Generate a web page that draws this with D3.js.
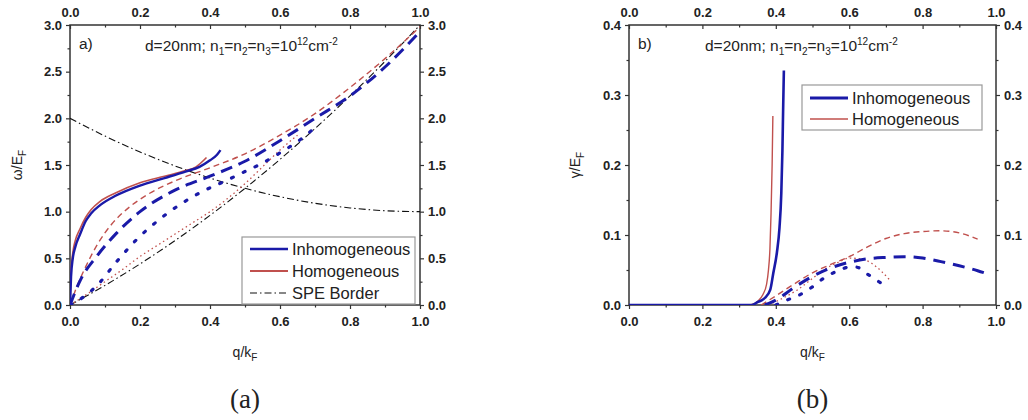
<!DOCTYPE html>
<html>
<head>
<meta charset="utf-8">
<script src="https://cdn.jsdelivr.net/npm/d3@7"></script>
<style>
  body { margin: 0; background: #fff; }
  svg { display: block; }
  text { fill: #222; }
</style>
</head>
<body>
<div id="chart"></div>
<script>
// tick values
var qTicks = [0, 0.2, 0.4, 0.6, 0.8, 1.0];
var qMinor = [0.1, 0.3, 0.5, 0.7, 0.9];
var omegaTicks = [0, 0.5, 1.0, 1.5, 2.0, 2.5, 3.0];
var omegaMinor = [0.25, 0.75, 1.25, 1.75, 2.25, 2.75];
var gammaTicks = [0, 0.1, 0.2, 0.3, 0.4];
var gammaMinor = [0.05, 0.15, 0.25, 0.35];

// panel a) : [q/kF, omega/EF]
var inhomMode1 = [[0,0],[0.003,0.3],[0.008,0.5],[0.015,0.62],[0.029,0.76],[0.045,0.9],[0.06,0.98],[0.086,1.07],[0.13,1.17],[0.2,1.28],[0.27,1.36],[0.33,1.43],[0.37,1.48],[0.4,1.55],[0.42,1.61],[0.43,1.66]];
var homMode1 = [[0,0],[0.003,0.35],[0.008,0.56],[0.015,0.69],[0.029,0.82],[0.045,0.94],[0.06,1.02],[0.086,1.11],[0.13,1.2],[0.2,1.31],[0.27,1.38],[0.33,1.44],[0.36,1.48],[0.39,1.58]];
var inhomMode2 = [[0,0],[0.03,0.27],[0.076,0.52],[0.133,0.77],[0.2,1.0],[0.3,1.23],[0.4,1.38],[0.5,1.54],[0.6,1.76],[0.7,2.0],[0.8,2.24],[0.9,2.55],[1.0,2.93]];
var homMode2 = [[0,0],[0.02,0.2],[0.05,0.45],[0.08,0.66],[0.12,0.87],[0.17,1.05],[0.22,1.18],[0.3,1.33],[0.4,1.47],[0.5,1.62],[0.6,1.82],[0.7,2.05],[0.8,2.33],[0.9,2.64],[1.0,2.98]];
var inhomMode3 = [[0,0],[0.04,0.09],[0.08,0.22],[0.13,0.45],[0.19,0.7],[0.26,0.93],[0.32,1.09],[0.37,1.2],[0.45,1.34],[0.5,1.43],[0.55,1.52],[0.6,1.63],[0.65,1.75],[0.7,1.9]];
var homMode3 = [[0,0],[0.05,0.12],[0.1,0.25],[0.15,0.38],[0.2,0.52],[0.25,0.64],[0.3,0.76],[0.35,0.88],[0.4,1.0],[0.45,1.14],[0.5,1.3],[0.55,1.48],[0.6,1.66],[0.65,1.82]];
var speUpper = [[0,0],[0.1,0.21],[0.2,0.44],[0.3,0.69],[0.4,0.96],[0.5,1.25],[0.6,1.56],[0.7,1.89],[0.8,2.24],[0.9,2.61],[1.0,3.0]];
var speLower = [[0,2.0],[0.1,1.81],[0.2,1.64],[0.3,1.49],[0.4,1.36],[0.5,1.25],[0.6,1.16],[0.7,1.09],[0.8,1.04],[0.9,1.01],[1.0,1.0]];

// panel b) : [q/kF, gamma/EF]
var inhomDamp1 = [[0,0],[0.335,0],[0.35,0.004],[0.37,0.01],[0.385,0.022],[0.393,0.045],[0.403,0.075],[0.41,0.11],[0.415,0.16],[0.418,0.22],[0.42,0.28],[0.422,0.335]];
var homDamp1 = [[0,0],[0.33,0],[0.35,0.005],[0.365,0.015],[0.375,0.03],[0.38,0.05],[0.384,0.08],[0.387,0.13],[0.39,0.2],[0.392,0.27]];
var inhomDamp2 = [[0.37,0],[0.4,0.007],[0.45,0.025],[0.5,0.041],[0.55,0.053],[0.6,0.061],[0.65,0.066],[0.7,0.068],[0.75,0.069],[0.8,0.067],[0.85,0.062],[0.9,0.056],[0.95,0.049],[0.98,0.044]];
var homDamp2 = [[0.36,0],[0.4,0.013],[0.45,0.03],[0.5,0.046],[0.55,0.058],[0.6,0.069],[0.65,0.083],[0.7,0.095],[0.75,0.102],[0.8,0.105],[0.85,0.106],[0.9,0.103],[0.95,0.094]];
var inhomDamp3 = [[0.4,0],[0.42,0.005],[0.46,0.013],[0.5,0.026],[0.53,0.038],[0.57,0.049],[0.6,0.054],[0.62,0.054],[0.65,0.044],[0.69,0.03]];
var homDamp3 = [[0.38,0],[0.42,0.01],[0.46,0.022],[0.5,0.038],[0.53,0.05],[0.57,0.061],[0.6,0.067],[0.63,0.066],[0.66,0.06],[0.69,0.047],[0.71,0.036]];

var blue = "#1a1aa8", red = "#c0504d", black = "#111";
var sans = "'Liberation Sans', Arial, sans-serif";
var serif = "'Liberation Serif', 'Times New Roman', serif";

var svg = d3.select("#chart").append("svg")
    .attr("width", 1028)
    .attr("height", 420)
    .style("font-family", sans);

var drawPanel = function(p) {
  var x = d3.scaleLinear().domain([0, 1]).range([p.left, p.right]);
  var y = d3.scaleLinear().domain([0, p.ymax]).range([p.bottom, p.top]);
  var g = svg.append("g");

  g.append("clipPath").attr("id", p.id + "clip")
    .append("rect")
    .attr("x", p.left).attr("y", p.top)
    .attr("width", p.right - p.left).attr("height", p.bottom - p.top);

  var fmt = d3.format(".1f");
  var axes = [
    [d3.axisBottom(x).tickValues(qTicks).tickFormat(fmt).tickSize(4).tickPadding(8), "translate(0," + p.bottom + ")"],
    [d3.axisBottom(x).tickValues(qMinor).tickFormat("").tickSize(2.5), "translate(0," + p.bottom + ")"],
    [d3.axisTop(x).tickValues(qTicks).tickFormat(fmt).tickSize(-4).tickPadding(8), "translate(0," + p.top + ")"],
    [d3.axisTop(x).tickValues(qMinor).tickFormat("").tickSize(-2.5), "translate(0," + p.top + ")"],
    [d3.axisLeft(y).tickValues(p.yticks).tickFormat(fmt).tickSize(4).tickPadding(4), "translate(" + p.left + ",0)"],
    [d3.axisLeft(y).tickValues(p.yminor).tickFormat("").tickSize(2.5), "translate(" + p.left + ",0)"],
    [d3.axisRight(y).tickValues(p.yticks).tickFormat(fmt).tickSize(4).tickPadding(4), "translate(" + p.right + ",0)"],
    [d3.axisRight(y).tickValues(p.yminor).tickFormat("").tickSize(2.5), "translate(" + p.right + ",0)"]
  ];
  axes.forEach(function(a) {
    var ax = g.append("g").attr("transform", a[1]).call(a[0].tickSizeOuter(0));
    ax.select(".domain").remove();
    ax.selectAll("line").attr("stroke", "#333").attr("stroke-width", 1.2);
    ax.selectAll("text")
      .attr("font-family", sans)
      .attr("font-size", 13).attr("font-weight", "bold").attr("fill", "#222");
  });

  // frame
  g.append("rect")
    .attr("x", p.left).attr("y", p.top)
    .attr("width", p.right - p.left).attr("height", p.bottom - p.top)
    .attr("fill", "none").attr("stroke", "#333").attr("stroke-width", 1.5);

  var line = d3.line()
    .x(function(d) { return x(d[0]); })
    .y(function(d) { return y(d[1]); })
    .curve(d3.curveMonotoneX);

  var curves = g.append("g").attr("clip-path", "url(#" + p.id + "clip)");
  p.series.forEach(function(s) {
    curves.append("path")
      .datum(s.data)
      .attr("d", line)
      .attr("fill", "none")
      .attr("stroke", s.color)
      .attr("stroke-width", s.width)
      .attr("stroke-dasharray", s.dash || null)
      .attr("stroke-linecap", s.cap || "butt");
  });

  // axis titles
  var cx = (p.left + p.right) / 2;
  var xt = g.append("text").attr("x", cx).attr("y", 357)
    .attr("text-anchor", "middle").attr("font-size", 14);
  xt.append("tspan").text("q/k");
  xt.append("tspan").attr("dy", 4).attr("font-size", 10).text("F");

  var yt = g.append("text")
    .attr("transform", "translate(" + p.ytitleX + "," + ((p.top + p.bottom) / 2) + ") rotate(-90)")
    .attr("text-anchor", "middle").attr("font-size", 14);
  yt.append("tspan").text(p.ysymbol + "/E");
  yt.append("tspan").attr("dy", 4).attr("font-size", 10).text("F");

  // panel letter and parameters
  g.append("text").attr("x", p.left + 9).attr("y", 49).attr("font-size", 15.5).text(p.letter);
  var ann = g.append("text").attr("x", p.annX).attr("y", 51).attr("font-size", 15.5);
  ann.append("tspan").text("d=20nm; n");
  ann.append("tspan").attr("dy", 4).attr("font-size", 10).text("1");
  ann.append("tspan").attr("dy", -4).text("=n");
  ann.append("tspan").attr("dy", 4).attr("font-size", 10).text("2");
  ann.append("tspan").attr("dy", -4).text("=n");
  ann.append("tspan").attr("dy", 4).attr("font-size", 10).text("3");
  ann.append("tspan").attr("dy", -4).text("=10");
  ann.append("tspan").attr("dy", -6).attr("font-size", 10).text("12");
  ann.append("tspan").attr("dy", 6).text("cm");
  ann.append("tspan").attr("dy", -6).attr("font-size", 10).text("-2");

  // legend
  var L = p.legend;
  var lg = g.append("g");
  lg.append("rect")
    .attr("x", L.x).attr("y", L.y).attr("width", L.w).attr("height", L.h)
    .attr("fill", "#fff").attr("stroke", "#999").attr("stroke-width", 1.2);
  L.items.forEach(function(it, i) {
    var yy = L.y + L.first + i * L.step;
    lg.append("line")
      .attr("x1", L.x + 8).attr("x2", L.x + 46)
      .attr("y1", yy).attr("y2", yy)
      .attr("stroke", it.color).attr("stroke-width", it.width)
      .attr("stroke-dasharray", it.dash || null);
    lg.append("text").attr("x", L.x + 50).attr("y", yy + 6)
      .attr("font-size", 16.5).text(it.label);
  });

  g.append("text").attr("x", cx).attr("y", 408)
    .attr("text-anchor", "middle")
    .style("font-family", serif)
    .attr("font-size", 27).text(p.caption);
};

var dashDot = "7,3,1.5,3";

drawPanel({
  id: "a", left: 70, right: 420, top: 25, bottom: 305, ymax: 3,
  yticks: omegaTicks, yminor: omegaMinor, ysymbol: "\u03c9", ytitleX: 22,
  letter: "a)", annX: 145, caption: "(a)",
  series: [
    { data: speUpper, color: black, width: 1.1, dash: dashDot },
    { data: speLower, color: black, width: 1.1, dash: dashDot },
    { data: homMode3, color: red, width: 1.3, dash: "1.5,3" },
    { data: inhomMode3, color: blue, width: 3.2, dash: "2,11", cap: "round" },
    { data: homMode2, color: red, width: 1.4, dash: "6,4" },
    { data: inhomMode2, color: blue, width: 3, dash: "12,7" },
    { data: homMode1, color: red, width: 1.6 },
    { data: inhomMode1, color: blue, width: 2.4 }
  ],
  legend: { x: 242, y: 237, w: 173, h: 67, first: 12, step: 22,
    items: [
      { label: "Inhomogeneous", color: blue, width: 2.6 },
      { label: "Homogeneous", color: red, width: 2 },
      { label: "SPE Border", color: black, width: 1.2, dash: dashDot }
    ] }
});

drawPanel({
  id: "b", left: 629, right: 996, top: 25, bottom: 305, ymax: 0.4,
  yticks: gammaTicks, yminor: gammaMinor, ysymbol: "\u03b3", ytitleX: 580,
  letter: "b)", annX: 705, caption: "(b)",
  series: [
    { data: homDamp3, color: red, width: 1.3, dash: "1.5,3" },
    { data: inhomDamp3, color: blue, width: 3.2, dash: "2,11", cap: "round" },
    { data: homDamp2, color: red, width: 1.4, dash: "6,4" },
    { data: inhomDamp2, color: blue, width: 3, dash: "12,8" },
    { data: homDamp1, color: red, width: 1.4 },
    { data: inhomDamp1, color: blue, width: 2.6 }
  ],
  legend: { x: 802, y: 85, w: 180, h: 45, first: 13, step: 21,
    items: [
      { label: "Inhomogeneous", color: blue, width: 3 },
      { label: "Homogeneous", color: red, width: 1.4 }
    ] }
});
</script>
</body>
</html>
